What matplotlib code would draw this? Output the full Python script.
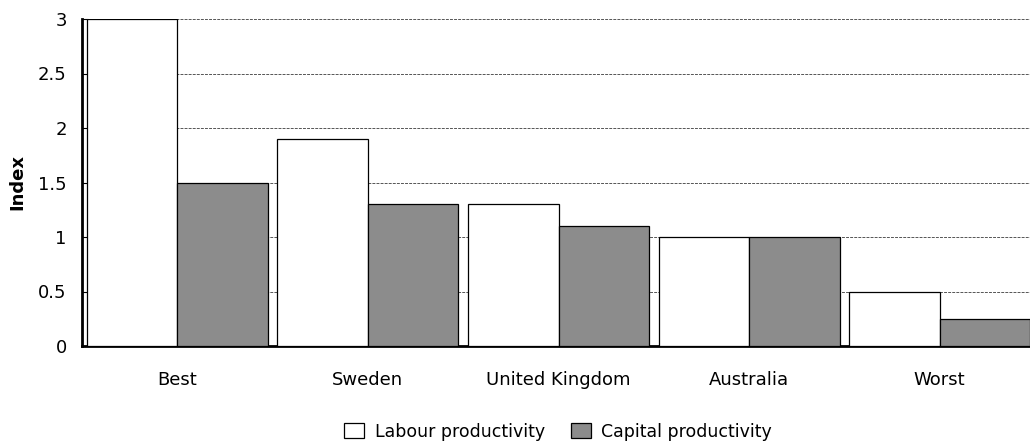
import matplotlib
matplotlib.use("Agg")
import matplotlib.pyplot as plt
import numpy as np

categories = ["Best", "Sweden", "United Kingdom", "Australia", "Worst"]
labour = [3.0, 1.9, 1.3, 1.0, 0.5]
capital = [1.5, 1.3, 1.1, 1.0, 0.25]
yticks = [0, 0.5, 1, 1.5, 2, 2.5, 3]
ytick_labels = ["0", "0.5", "1", "1.5", "2", "2.5", "3"]

plt.rcParams['font.family'] = ['DejaVu Sans']

fig = plt.figure(figsize=(10.30, 4.45), dpi=100)
ax = fig.add_axes([82/1030, 99/445, (1035-82)/1030, (346-19)/445])

x = np.arange(len(categories))
w = 0.475
ax.bar(x - w/2, labour, width=w, color="white", edgecolor="black", linewidth=0.9,
       label="Labour productivity", zorder=3)
ax.bar(x + w/2, capital, width=w, color="#8c8c8c", edgecolor="black", linewidth=0.9,
       label="Capital productivity", zorder=3)

ax.set_xlim(-0.5, len(categories) - 0.5)
ax.set_ylim(0, 3)
ax.set_yticks(yticks)
ax.set_yticklabels(ytick_labels, fontsize=13)
ax.set_xticks(x)
ax.set_xticklabels(categories, fontsize=13)
ax.tick_params(axis='x', length=0, pad=18)
ax.tick_params(axis='y', direction='in', length=4, width=0.8, pad=11)
ax.yaxis.grid(True, linestyle=(0, (3, 1.2)), color="#555555", linewidth=0.7, zorder=0)
ax.set_axisbelow(True)
for s in ["top", "right"]:
    ax.spines[s].set_visible(False)
ax.spines["left"].set_linewidth(2)
ax.spines["bottom"].set_linewidth(2)
ax.set_ylabel("Index", fontsize=13, fontweight="bold", labelpad=8)

fig.legend(loc="center", bbox_to_anchor=(0.542, 0.030), ncol=2, frameon=False,
           fontsize=12.5, handlelength=1.15, handleheight=1.0, columnspacing=1.5,
           handletextpad=0.6)

fig.savefig("out.png", dpi=100)
